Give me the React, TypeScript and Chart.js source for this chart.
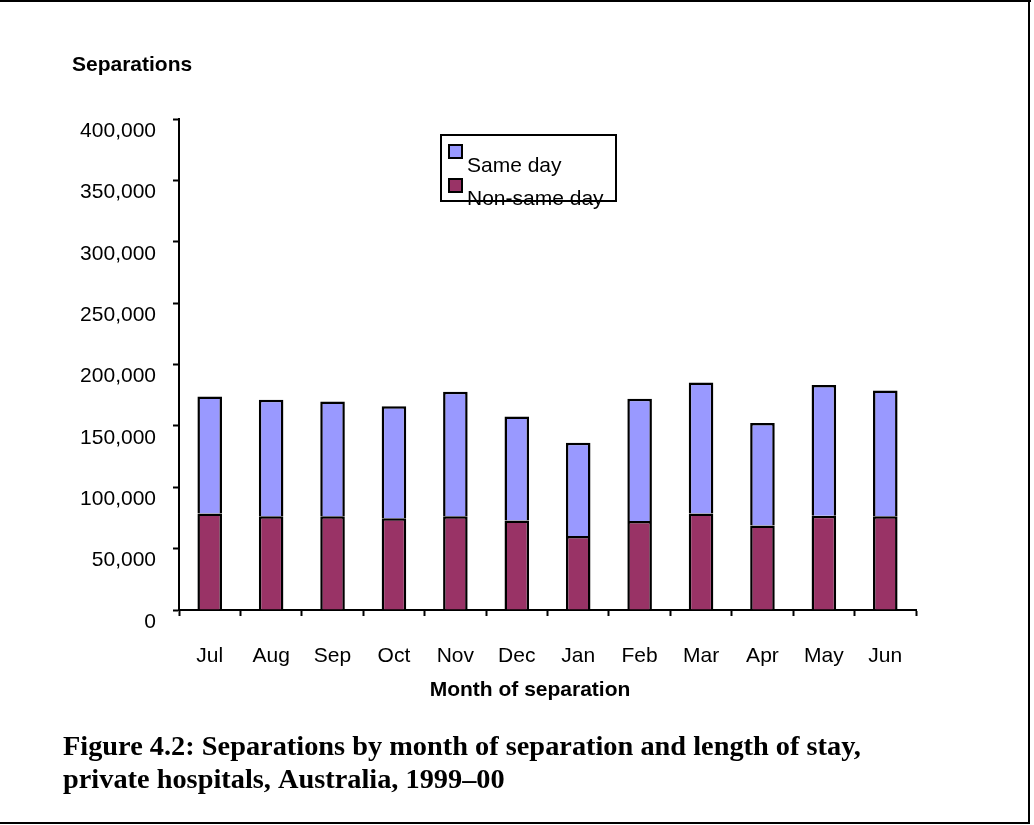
import React, { useEffect, useRef } from 'react';
import { Chart, registerables } from 'chart.js';

Chart.register(...registerables);

const months = ['Jul', 'Aug', 'Sep', 'Oct', 'Nov', 'Dec', 'Jan', 'Feb', 'Mar', 'Apr', 'May', 'Jun'];
const nonSameDay = [78600, 76400, 76400, 74800, 76400, 72900, 60200, 72600, 78600, 68900, 76700, 76400];
const sameDay = [95400, 94900, 93500, 91100, 101400, 84800, 76100, 99500, 106800, 83400, 106500, 102500];
const yMin = 0;
const yMax = 400000;
const yStep = 50000;
const seriesNames = ['Non-same day', 'Same day'];
const yAxisTitle = 'Separations';
const xAxisTitle = 'Month of separation';
const captionLines = [
  'Figure 4.2: Separations by month of separation and length of stay,',
  'private hospitals, Australia, 1999–00',
];

const SANS = '"Liberation Sans", Arial, sans-serif';
const SERIF = '"Liberation Serif", "Times New Roman", serif';
const RED = '#993366';
const BLUE = '#9999FF';

const extrasPlugin = {
  id: 'extras',
  afterDraw(chart: any) {
    const ctx = chart.ctx as CanvasRenderingContext2D;
    ctx.save();
    // frame
    ctx.fillStyle = '#000';
    ctx.fillRect(0, 0, 1031, 2);
    ctx.fillRect(1028, 0, 2, 824);
    ctx.fillRect(0, 822, 1030, 2);

    // y axis title
    ctx.font = `bold 21px ${SANS}`;
    ctx.textAlign = 'left';
    ctx.textBaseline = 'alphabetic';
    ctx.fillText(yAxisTitle, 72, 71);

    // x axis title
    ctx.textAlign = 'center';
    ctx.fillText(xAxisTitle, 530, 696);
    ctx.textAlign = 'left';

    // legend
    const ds = chart.data.datasets;
    const order = [1, 0];
    ctx.lineWidth = 2;
    ctx.strokeStyle = '#000';
    ctx.font = `21px ${SANS}`;
    const baselines = [172, 205];
    const squares = [145, 179];
    order.forEach((di, i) => {
      ctx.fillStyle = ds[di].backgroundColor;
      ctx.fillRect(449, squares[i], 13, 13);
      ctx.strokeRect(449, squares[i], 13, 13);
      ctx.fillStyle = '#000';
      ctx.fillText(ds[di].label, 467, baselines[i]);
    });
    ctx.strokeRect(441, 135, 175, 66);

    // caption
    const target = 798;
    ctx.font = `bold 24px ${SERIF}`;
    const w = ctx.measureText(captionLines[0]).width;
    const size = Math.max(16, Math.min(30, 24 * target / w));
    ctx.font = `bold ${size.toFixed(2)}px ${SERIF}`;
    ctx.fillStyle = '#000';
    ctx.fillText(captionLines[0], 63, 755);
    ctx.fillText(captionLines[1], 63, 788);
    ctx.restore();
  },
};

export default function App() {
  const ref = useRef<HTMLCanvasElement | null>(null);
  useEffect(() => {
    if (!ref.current) return;
    const chart = new Chart(ref.current, {
      type: 'bar',
      data: {
        labels: months,
        datasets: [
          {
            label: seriesNames[0],
            data: nonSameDay,
            backgroundColor: RED,
            borderColor: '#000',
            borderWidth: 2.5,
            barPercentage: 0.4,
            categoryPercentage: 1,
          },
          {
            label: seriesNames[1],
            data: sameDay,
            backgroundColor: BLUE,
            borderColor: '#000',
            borderWidth: 2.5,
            barPercentage: 0.4,
            categoryPercentage: 1,
          },
        ],
      },
      options: {
        animation: false,
        responsive: false,
        maintainAspectRatio: false,
        layout: { padding: { left: 0, right: 118, top: 119, bottom: 115 } },
        plugins: {
          legend: { display: false },
          tooltip: { enabled: false },
          title: { display: false },
        },
        scales: {
          x: {
            stacked: true,
            grid: {
              display: true,
              drawOnChartArea: false,
              drawTicks: true,
              tickLength: 6,
              tickWidth: 2,
              color: '#000',
              offset: true,
            },
            border: { display: true, color: '#000', width: 2 },
            ticks: {
              color: '#000',
              font: { family: SANS, size: 21 },
              padding: 28,
              maxRotation: 0,
              autoSkip: false,
            },
            title: { display: false },
            afterFit(scale: any) {
              scale.height = 100;
            },
          },
          y: {
            stacked: true,
            min: yMin,
            max: yMax,
            grid: {
              display: true,
              drawOnChartArea: false,
              drawTicks: true,
              tickLength: 6,
              tickWidth: 2,
              color: '#000',
            },
            border: { display: true, color: '#000', width: 2 },
            ticks: {
              stepSize: yStep,
              color: '#000',
              font: { family: SANS, size: 21 },
              padding: 17,
              labelOffset: 12,
              callback: (v: any) => Number(v).toLocaleString('en-US'),
            },
            afterFit(scale: any) {
              scale.width = 179;
            },
          },
        },
      },
      plugins: [extrasPlugin],
    } as any);
    return () => chart.destroy();
  }, []);
  return (
    <div style={{ position: 'absolute', left: 0, top: 0, width: 1034, height: 825, background: '#fff' }}>
      <canvas ref={ref} width={1034} height={825} style={{ display: 'block' }} />
    </div>
  );
}
